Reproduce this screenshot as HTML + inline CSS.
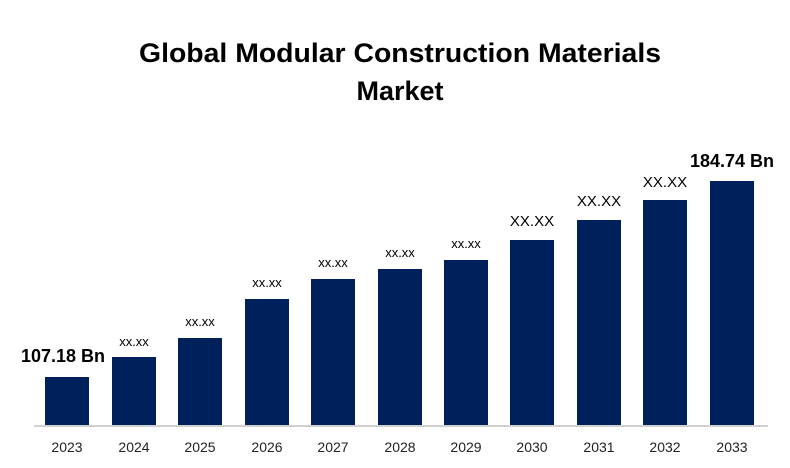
<!DOCTYPE html><html><head><style>body{margin:0;width:790px;height:463px;background:#fff;overflow:hidden}</style></head><body>
<svg width="790" height="463" xmlns="http://www.w3.org/2000/svg" font-family="Liberation Sans, sans-serif">
<text x="400" y="62" text-anchor="middle" font-size="27" font-weight="bold" fill="#000" textLength="522" lengthAdjust="spacingAndGlyphs">Global Modular Construction Materials</text>
<text x="400" y="100" text-anchor="middle" font-size="27" font-weight="bold" fill="#000">Market</text>
<line x1="34" y1="426" x2="768" y2="426" stroke="#d0d0d0" stroke-width="2"/>
<g fill="#00205b">
<rect x="45" y="377" width="44" height="48"/>
<rect x="112" y="357" width="44" height="68"/>
<rect x="178" y="338" width="44" height="87"/>
<rect x="245" y="299" width="44" height="126"/>
<rect x="311" y="279" width="44" height="146"/>
<rect x="378" y="269" width="44" height="156"/>
<rect x="444" y="260" width="44" height="165"/>
<rect x="510" y="240" width="44" height="185"/>
<rect x="577" y="220" width="44" height="205"/>
<rect x="643" y="200" width="44" height="225"/>
<rect x="710" y="181" width="44" height="244"/>
</g>
<g font-size="13" text-anchor="middle" fill="#000">
<text x="134" y="346">xx.xx</text><text x="200" y="326">xx.xx</text><text x="267" y="287">xx.xx</text><text x="333" y="267">xx.xx</text><text x="400" y="257">xx.xx</text><text x="466" y="248">xx.xx</text>
</g>
<g font-size="15" text-anchor="middle" fill="#000">
<text x="532" y="226">XX.XX</text><text x="599" y="206">XX.XX</text><text x="665" y="187">XX.XX</text>
</g>
<text x="63" y="362" text-anchor="middle" font-size="18" font-weight="bold">107.18 Bn</text>
<text x="732" y="167" text-anchor="middle" font-size="18" font-weight="bold">184.74 Bn</text>
<g font-size="14" text-anchor="middle" fill="#222">
<text x="67" y="452">2023</text><text x="134" y="452">2024</text><text x="200" y="452">2025</text><text x="267" y="452">2026</text><text x="333" y="452">2027</text><text x="400" y="452">2028</text><text x="466" y="452">2029</text><text x="532" y="452">2030</text><text x="599" y="452">2031</text><text x="665" y="452">2032</text><text x="732" y="452">2033</text>
</g>
</svg></body></html>
